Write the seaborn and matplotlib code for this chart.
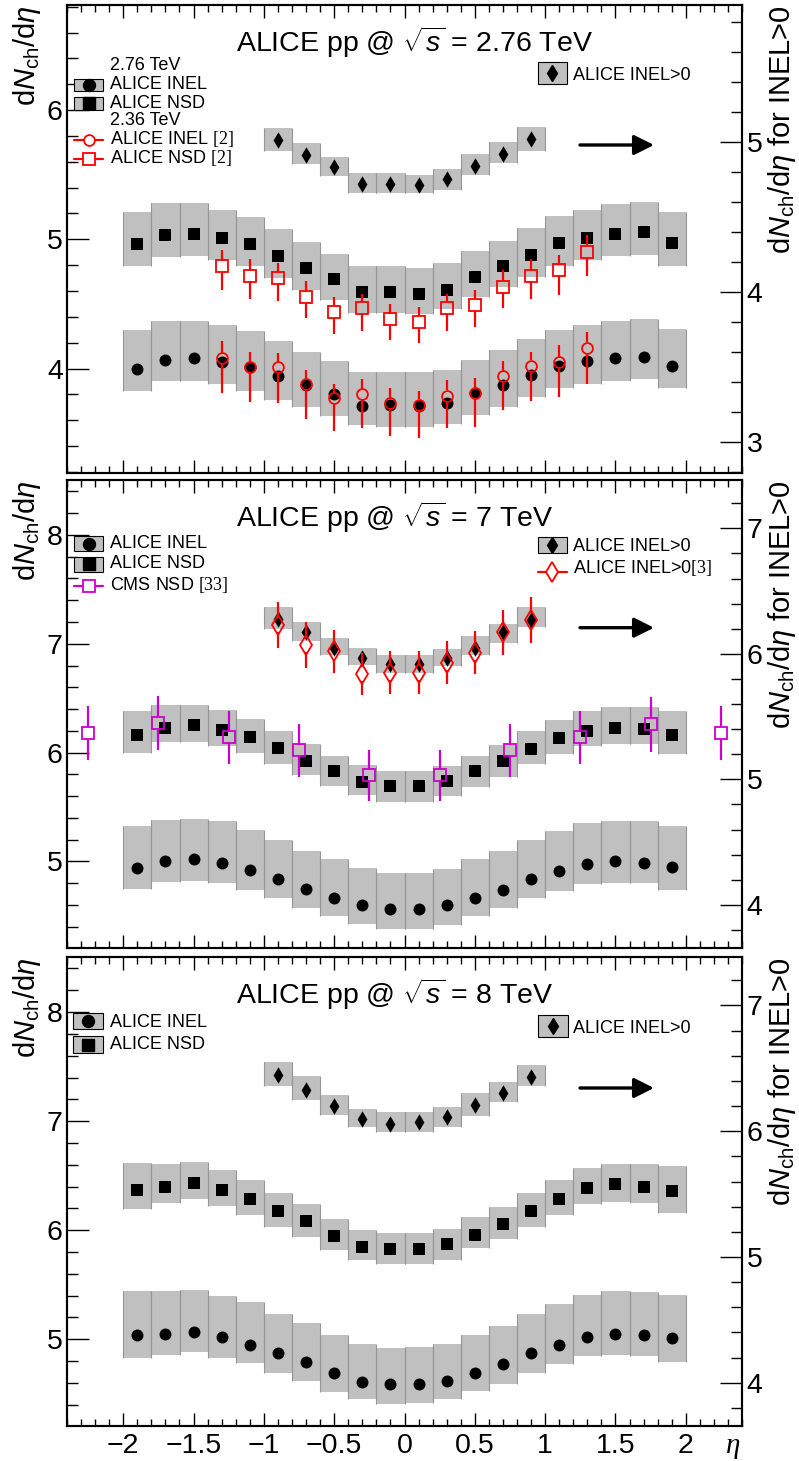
import numpy as np
import matplotlib
matplotlib.use("Agg")
import matplotlib.pyplot as plt
import seaborn as sns
from matplotlib.patches import Rectangle
from matplotlib.ticker import MultipleLocator, FuncFormatter

# ---------------- data ----------------
eta = [-1.9, -1.7, -1.5, -1.3, -1.1, -0.9, -0.7, -0.5, -0.3, -0.1,
       0.1, 0.3, 0.5, 0.7, 0.9, 1.1, 1.3, 1.5, 1.7, 1.9]
eta_central = [-0.9, -0.7, -0.5, -0.3, -0.1, 0.1, 0.3, 0.5, 0.7, 0.9]
eta_236 = [-1.3, -1.1, -0.9, -0.7, -0.5, -0.3, -0.1, 0.1, 0.3, 0.5, 0.7, 0.9, 1.1, 1.3]
eta_cms = [-2.25, -1.75, -1.25, -0.75, -0.25, 0.25, 0.75, 1.25, 1.75, 2.25]

# 2.76 TeV
inel_276 = [4.00, 4.07, 4.08, 4.05, 4.01, 3.94, 3.87, 3.80, 3.71, 3.72,
            3.71, 3.73, 3.81, 3.87, 3.95, 4.02, 4.06, 4.08, 4.09, 4.02]
inel_276_hi = [4.30, 4.37, 4.37, 4.34, 4.29, 4.21, 4.13, 4.06, 3.97, 3.97,
               3.97, 3.99, 4.07, 4.14, 4.23, 4.30, 4.34, 4.37, 4.38, 4.31]
inel_276_lo = [3.83, 3.90, 3.90, 3.88, 3.83, 3.76, 3.70, 3.63, 3.56, 3.55,
               3.55, 3.57, 3.64, 3.70, 3.78, 3.85, 3.88, 3.90, 3.92, 3.85]
nsd_276 = [4.96, 5.03, 5.04, 5.01, 4.96, 4.87, 4.78, 4.69, 4.59, 4.59,
           4.58, 4.61, 4.71, 4.79, 4.88, 4.97, 5.01, 5.04, 5.06, 4.97]
nsd_276_hi = [5.21, 5.28, 5.28, 5.23, 5.17, 5.08, 4.98, 4.89, 4.79, 4.79,
              4.78, 4.82, 4.91, 4.99, 5.09, 5.18, 5.23, 5.27, 5.29, 5.21]
nsd_276_lo = [4.79, 4.86, 4.87, 4.84, 4.79, 4.70, 4.61, 4.53, 4.43, 4.43,
              4.42, 4.46, 4.55, 4.63, 4.71, 4.79, 4.84, 4.87, 4.88, 4.79]
inel0_276 = [5.01, 4.91, 4.83, 4.72, 4.72, 4.71, 4.75, 4.84, 4.92, 5.02]
inel0_276_hi = [5.09, 4.99, 4.90, 4.79, 4.79, 4.78, 4.82, 4.92, 5.00, 5.10]
inel0_276_lo = [4.94, 4.85, 4.77, 4.66, 4.66, 4.66, 4.68, 4.78, 4.86, 4.94]

# 2.36 TeV (ALICE [2])
inel_236 = [4.08, 4.01, 4.01, 3.88, 3.77, 3.80, 3.73, 3.72, 3.79, 3.81, 3.94, 4.02, 4.05, 4.16]
inel_236_hi = [4.21, 4.13, 4.12, 3.99, 3.88, 3.92, 3.85, 3.83, 3.91, 3.93, 4.06, 4.13, 4.18, 4.28]
inel_236_lo = [3.81, 3.74, 3.73, 3.61, 3.52, 3.54, 3.48, 3.46, 3.54, 3.55, 3.68, 3.75, 3.78, 3.88]
nsd_236 = [4.79, 4.72, 4.70, 4.55, 4.44, 4.47, 4.38, 4.36, 4.47, 4.49, 4.63, 4.72, 4.76, 4.90]
nsd_236_hi = [4.92, 4.85, 4.82, 4.68, 4.55, 4.58, 4.50, 4.48, 4.58, 4.61, 4.76, 4.85, 4.88, 5.03]
nsd_236_lo = [4.61, 4.54, 4.52, 4.39, 4.27, 4.29, 4.22, 4.20, 4.29, 4.32, 4.47, 4.54, 4.57, 4.72]

# 7 TeV
inel_7 = [4.94, 5.00, 5.02, 4.99, 4.92, 4.84, 4.75, 4.66, 4.60, 4.56,
          4.56, 4.60, 4.66, 4.74, 4.84, 4.91, 4.98, 5.00, 4.99, 4.95]
inel_7_hi = [5.33, 5.38, 5.39, 5.37, 5.29, 5.20, 5.10, 5.02, 4.94, 4.89,
             4.89, 4.93, 5.02, 5.10, 5.20, 5.28, 5.35, 5.37, 5.37, 5.33]
inel_7_lo = [4.75, 4.81, 4.82, 4.80, 4.74, 4.66, 4.57, 4.50, 4.43, 4.38,
             4.38, 4.42, 4.50, 4.57, 4.66, 4.73, 4.79, 4.80, 4.80, 4.74]
nsd_7 = [6.16, 6.23, 6.25, 6.21, 6.14, 6.04, 5.92, 5.83, 5.73, 5.69,
         5.69, 5.74, 5.83, 5.92, 6.03, 6.13, 6.20, 6.23, 6.22, 6.16]
nsd_7_hi = [6.38, 6.44, 6.44, 6.39, 6.31, 6.20, 6.08, 5.97, 5.89, 5.83,
            5.83, 5.88, 5.97, 6.07, 6.20, 6.30, 6.38, 6.42, 6.42, 6.38]
nsd_7_lo = [6.00, 6.10, 6.10, 6.06, 6.00, 5.90, 5.79, 5.69, 5.61, 5.55,
            5.55, 5.60, 5.68, 5.78, 5.90, 5.99, 6.06, 6.08, 6.08, 5.99]
inel0_7 = [6.28, 6.17, 6.05, 5.97, 5.92, 5.92, 5.97, 6.05, 6.17, 6.27]
inel0_7_hi = [6.37, 6.25, 6.13, 6.05, 5.99, 5.99, 6.04, 6.14, 6.24, 6.37]
inel0_7_lo = [6.20, 6.10, 5.99, 5.91, 5.85, 5.85, 5.90, 5.99, 6.09, 6.21]
inel0_7_ref = [6.23, 6.07, 6.02, 5.84, 5.85, 5.85, 5.93, 6.01, 6.17, 6.27]
inel0_7_ref_err = [0.18, 0.18, 0.17, 0.165, 0.17, 0.17, 0.17, 0.17, 0.18, 0.18]
cms_7 = [6.18, 6.27, 6.14, 6.02, 5.79, 5.79, 6.02, 6.14, 6.26, 6.18]
cms_7_err = [0.25, 0.25, 0.24, 0.24, 0.23, 0.23, 0.24, 0.24, 0.25, 0.25]

# 8 TeV
inel_8 = [5.04, 5.05, 5.07, 5.02, 4.95, 4.87, 4.79, 4.69, 4.61, 4.59,
          4.59, 4.62, 4.69, 4.77, 4.87, 4.95, 5.02, 5.05, 5.04, 5.01]
inel_8_hi = [5.44, 5.44, 5.45, 5.40, 5.34, 5.23, 5.15, 5.04, 4.96, 4.92,
             4.93, 4.96, 5.04, 5.12, 5.23, 5.32, 5.41, 5.44, 5.43, 5.41]
inel_8_lo = [4.83, 4.86, 4.88, 4.83, 4.78, 4.69, 4.62, 4.52, 4.45, 4.41,
             4.42, 4.45, 4.53, 4.59, 4.69, 4.77, 4.85, 4.86, 4.85, 4.79]
nsd_8 = [6.37, 6.40, 6.43, 6.37, 6.29, 6.18, 6.08, 5.95, 5.85, 5.83,
         5.83, 5.87, 5.96, 6.06, 6.18, 6.29, 6.39, 6.42, 6.40, 6.36]
nsd_8_hi = [6.62, 6.61, 6.63, 6.55, 6.46, 6.34, 6.24, 6.10, 6.00, 5.97,
            5.97, 6.01, 6.12, 6.21, 6.34, 6.46, 6.57, 6.61, 6.61, 6.59]
nsd_8_lo = [6.19, 6.25, 6.29, 6.22, 6.14, 6.03, 5.94, 5.82, 5.73, 5.69,
            5.69, 5.73, 5.84, 5.92, 6.03, 6.14, 6.24, 6.26, 6.25, 6.16]
inel0_8 = [6.45, 6.33, 6.20, 6.10, 6.06, 6.07, 6.11, 6.21, 6.30, 6.43]
inel0_8_hi = [6.55, 6.44, 6.29, 6.18, 6.15, 6.15, 6.19, 6.30, 6.39, 6.53]
inel0_8_lo = [6.36, 6.25, 6.13, 6.03, 5.99, 5.99, 6.03, 6.12, 6.23, 6.36]

titles = ["2.76 TeV", "7 TeV", "8 TeV"]

# ---------------- style ----------------
sns.set_style("ticks", rc={"axes.edgecolor": "black", "xtick.color": "black",
                           "ytick.color": "black", "text.color": "black",
                           "axes.labelcolor": "black"})
plt.rcParams["font.family"] = ["Liberation Sans", "DejaVu Sans"]
plt.rcParams["mathtext.fontset"] = "custom"
plt.rcParams["mathtext.rm"] = "Liberation Sans"
plt.rcParams["mathtext.it"] = "Liberation Sans:italic"
plt.rcParams["mathtext.bf"] = "Liberation Sans:bold"
plt.rcParams["mathtext.sf"] = "Liberation Serif"

BOX_GRAY = "#c0c0c0"
EDGE_GRAY = "#959595"
RED = "#ff0000"
MAG = "#cc00cc"
BIN = 0.2
W, H = 799, 1461
X0, X1 = 67, 742
PANEL_TOPS = [5, 480, 957]
PANEL_H = [468, 468, 469]
LEFT_LIMS = [(3.192, 6.813), (4.205, 8.505), (4.205, 8.505)]
RIGHT_LIMS = [(2.793, 5.911), (3.656, 7.385), (3.656, 7.385)]
LEG_FS = 13
TICK_FS = 20.5

fmt = FuncFormatter(lambda v, p: ("%g" % v).replace("-", "\u2212"))

fig = plt.figure(figsize=(W / 100, H / 100), dpi=100)


def fx(px):
    return (px - X0) / (X1 - X0)


def fy(py, top, h):
    return 1 - (py - top) / h


def band(ax, x, y, lo, hi, marker, s):
    x = np.asarray(x, float)
    lo = np.asarray(lo, float)
    hi = np.asarray(hi, float)
    ax.bar(x, hi - lo, bottom=lo, width=BIN, color=BOX_GRAY, linewidth=0, zorder=1)
    ax.vlines(np.concatenate([x - BIN / 2, x + BIN / 2]), np.concatenate([lo, lo]),
              np.concatenate([hi, hi]), colors=EDGE_GRAY, linewidth=0.8, zorder=1.5)
    sns.scatterplot(x=x, y=np.asarray(y, float), ax=ax, marker=marker, s=s,
                    color="black", edgecolor="black", linewidth=0, zorder=3, legend=False)


def open_points(ax, x, y, lo, hi, color, marker, ms, gap_px, h_px):
    x = np.asarray(x, float)
    y = np.asarray(y, float)
    lo = np.asarray(lo, float)
    hi = np.asarray(hi, float)
    lim = ax.get_ylim()
    gap = gap_px * (lim[1] - lim[0]) / h_px
    ax.vlines(x, y + gap, np.maximum(hi, y + gap), colors=color, linewidth=1.6, zorder=4)
    ax.vlines(x, np.minimum(lo, y - gap), y - gap, colors=color, linewidth=1.6, zorder=4)
    ax.plot(x, y, linestyle="none", marker=marker, ms=ms, mfc="none", mec=color,
            mew=1.3, zorder=5)


def leg_box(ax, top, h, xl, xr, yc, bh, marker, ms):
    ax.add_patch(Rectangle((fx(xl), fy(yc + bh / 2, top, h)), fx(xr) - fx(xl), bh / h,
                           transform=ax.transAxes, facecolor=BOX_GRAY, edgecolor="black",
                           linewidth=0.8, clip_on=False, zorder=6))
    ax.plot([fx((xl + xr) / 2)], [fy(yc, top, h)], transform=ax.transAxes, marker=marker,
            ms=ms, color="black", ls="none", clip_on=False, zorder=7)


def leg_line(ax, top, h, xl, xr, yc, color, marker, ms):
    ax.plot([fx(xl), fx(xr)], [fy(yc, top, h)] * 2, transform=ax.transAxes, color=color,
            lw=1.6, clip_on=False, zorder=6)
    ax.plot([fx((xl + xr) / 2)], [fy(yc, top, h)], transform=ax.transAxes, marker=marker,
            ms=ms, mfc="white", mec=color, mew=1.3, ls="none", clip_on=False, zorder=7)


def leg_text(ax, top, h, x, yb, s):
    ax.text(fx(x), fy(yb, top, h), s, transform=ax.transAxes, fontsize=LEG_FS,
            ha="left", va="baseline", zorder=8)


axes = []
for i, (top, h) in enumerate(zip(PANEL_TOPS, PANEL_H)):
    ax = fig.add_axes([X0 / W, 1 - (top + h) / H, (X1 - X0) / W, h / H])
    ax2 = ax.twinx()
    ax.set_xlim(-2.4, 2.4)
    ax.set_ylim(*LEFT_LIMS[i])
    ax2.set_ylim(*RIGHT_LIMS[i])
    axes.append((ax, ax2))

CIRC_S, SQ_S, DIA_S = 74, 70, 70
CIRC_MS, SQ_MS, DIA_MS = 8.6, 8.4, 8.2

# ---- top panel: 2.76 TeV ----
ax, ax2 = axes[0]
band(ax, eta, inel_276, inel_276_lo, inel_276_hi, "o", CIRC_S)
band(ax, eta, nsd_276, nsd_276_lo, nsd_276_hi, "s", SQ_S)
band(ax2, eta_central, inel0_276, inel0_276_lo, inel0_276_hi, "d", DIA_S)
open_points(ax, eta_236, inel_236, inel_236_lo, inel_236_hi, RED, "o", 7.8, 5.5, PANEL_H[0])
open_points(ax, eta_236, nsd_236, nsd_236_lo, nsd_236_hi, RED, "s", 8.0, 5.8, PANEL_H[0])

# ---- middle panel: 7 TeV ----
ax, ax2 = axes[1]
band(ax, eta, inel_7, inel_7_lo, inel_7_hi, "o", CIRC_S)
band(ax, eta, nsd_7, nsd_7_lo, nsd_7_hi, "s", SQ_S)
band(ax2, eta_central, inel0_7, inel0_7_lo, inel0_7_hi, "d", DIA_S)
cms_arr = np.asarray(cms_7)
cms_err = np.asarray(cms_7_err)
open_points(ax, eta_cms, cms_7, cms_arr - cms_err, cms_arr + cms_err, MAG, "s", 8.0, 5.8, PANEL_H[1])
ref_arr = np.asarray(inel0_7_ref)
ref_err = np.asarray(inel0_7_ref_err)
open_points(ax2, eta_central, inel0_7_ref, ref_arr - ref_err, ref_arr + ref_err, RED, "d", 10.0, 7.2, PANEL_H[1])

# ---- bottom panel: 8 TeV ----
ax, ax2 = axes[2]
band(ax, eta, inel_8, inel_8_lo, inel_8_hi, "o", CIRC_S)
band(ax, eta, nsd_8, nsd_8_lo, nsd_8_hi, "s", SQ_S)
band(ax2, eta_central, inel0_8, inel0_8_lo, inel0_8_hi, "d", DIA_S)

# ---- legends ----
t, hh = PANEL_TOPS[0], PANEL_H[0]
ax, ax2 = axes[0]
leg_text(ax, t, hh, 110, 70, "2.76 TeV")
leg_box(ax, t, hh, 74, 103, 84.8, 12.5, "o", CIRC_MS)
leg_text(ax, t, hh, 110, 89.3, "ALICE INEL")
leg_box(ax, t, hh, 74, 103, 103.3, 13, "s", SQ_MS)
leg_text(ax, t, hh, 110, 107.5, "ALICE NSD")
leg_text(ax, t, hh, 110, 125, "2.36 TeV")
leg_line(ax, t, hh, 74, 103, 140, RED, "o", 7.8)
leg_text(ax, t, hh, 110, 144, r"ALICE INEL $\mathsf{[2]}$")
leg_line(ax, t, hh, 74, 103, 158.5, RED, "s", 8.0)
leg_text(ax, t, hh, 110, 163.3, r"ALICE NSD $\mathsf{[2]}$")
leg_box(ax, t, hh, 537.7, 566.7, 73, 22, "d", DIA_MS)
leg_text(ax, t, hh, 573, 80, "ALICE INEL>0")

t, hh = PANEL_TOPS[1], PANEL_H[1]
ax, ax2 = axes[1]
leg_box(ax, t, hh, 74, 103, 543.5, 15, "o", CIRC_MS)
leg_text(ax, t, hh, 110, 547.7, "ALICE INEL")
leg_box(ax, t, hh, 74, 103, 564.2, 15, "s", SQ_MS)
leg_text(ax, t, hh, 110, 568.3, "ALICE NSD")
leg_line(ax, t, hh, 74, 103, 585.7, MAG, "s", 8.0)
leg_text(ax, t, hh, 110, 590, r"CMS NSD $\mathsf{[33]}$")
leg_box(ax, t, hh, 537.7, 566.7, 545, 16.7, "d", DIA_MS)
leg_text(ax, t, hh, 573, 551, "ALICE INEL>0")
leg_line(ax, t, hh, 537.7, 566.7, 571.7, RED, "d", 10.0)
leg_text(ax, t, hh, 573, 573.3, r"ALICE INEL>0$\mathsf{[3]}$")

t, hh = PANEL_TOPS[2], PANEL_H[2]
ax, ax2 = axes[2]
leg_box(ax, t, hh, 73, 103, 1021, 16.7, "o", CIRC_MS)
leg_text(ax, t, hh, 109.5, 1026.7, "ALICE INEL")
leg_box(ax, t, hh, 73, 103, 1044.7, 17.3, "s", SQ_MS)
leg_text(ax, t, hh, 109.5, 1049.3, "ALICE NSD")
leg_box(ax, t, hh, 537.7, 567.7, 1025.5, 22, "d", DIA_MS)
leg_text(ax, t, hh, 573, 1032.7, "ALICE INEL>0")

# ---- titles, arrows, axes styling ----
title_base = [52, 526.7, 1004]
arrow_y = [145, 627.7, 1088]
for i, (ax, ax2) in enumerate(axes):
    top, h = PANEL_TOPS[i], PANEL_H[i]
    ax.text(fx(236), fy(title_base[i], top, h), r"ALICE pp @ $\sqrt{s}$ = " + titles[i],
            transform=ax.transAxes, fontsize=20.5, ha="left", va="baseline", zorder=8)
    ax.annotate("", xy=(fx(654), fy(arrow_y[i], top, h)), xytext=(fx(580), fy(arrow_y[i], top, h)),
                xycoords=ax.transAxes, textcoords=ax.transAxes,
                arrowprops=dict(arrowstyle="-|>,head_length=0.6,head_width=0.3",
                                mutation_scale=20, lw=2.4, color="black",
                                shrinkA=0, shrinkB=0), zorder=8)

    ax.set_xlim(-2.4, 2.4)
    ax.set_ylim(*LEFT_LIMS[i])
    ax2.set_ylim(*RIGHT_LIMS[i])
    ax.xaxis.set_major_locator(MultipleLocator(0.5))
    ax.xaxis.set_minor_locator(MultipleLocator(0.1))
    ax.yaxis.set_major_locator(MultipleLocator(1))
    ax.yaxis.set_minor_locator(MultipleLocator(0.2))
    ax2.yaxis.set_major_locator(MultipleLocator(1))
    ax2.yaxis.set_minor_locator(MultipleLocator(0.2))
    ax.xaxis.set_major_formatter(fmt)
    ax.yaxis.set_major_formatter(fmt)
    ax2.yaxis.set_major_formatter(fmt)
    ax.tick_params(axis="x", which="both", direction="in", top=True, bottom=True,
                   labelbottom=(i == 2), labeltop=False, labelsize=TICK_FS, pad=5, width=1.0)
    ax.tick_params(axis="x", which="major", length=9.5)
    ax.tick_params(axis="x", which="minor", length=4.8)
    ax.tick_params(axis="y", which="both", direction="in", left=True, right=False,
                   labelsize=TICK_FS, pad=3, width=1.0)
    ax.tick_params(axis="y", which="major", length=16)
    ax.tick_params(axis="y", which="minor", length=8)
    ax2.tick_params(axis="y", which="both", direction="in", right=True, left=False,
                    labelsize=TICK_FS, pad=3.5, width=1.0)
    ax2.tick_params(axis="y", which="major", length=16)
    ax2.tick_params(axis="y", which="minor", length=8)
    ax.set_xlabel("")
    ax.set_ylabel("")
    ax2.set_ylabel("")
    for a in (ax, ax2):
        for sp in a.spines.values():
            sp.set_linewidth(1.5)
            sp.set_color("black")

    fig.text(27 / W, 1 - (top + 0) / H, r"d$N_{\mathrm{ch}}$/d$\eta$", rotation=90,
             fontsize=21, ha="center", va="top")
    fig.text(782 / W, 1 - (top + 0) / H, r"d$N_{\mathrm{ch}}$/d$\eta$ for INEL>0", rotation=90,
             fontsize=21, ha="center", va="top")

fig.text(733 / W, 1 - 1446 / H, "\u03b7", family="Liberation Serif", style="italic",
         fontsize=21, ha="center", va="center")

fig.savefig("out.png", dpi=100)
